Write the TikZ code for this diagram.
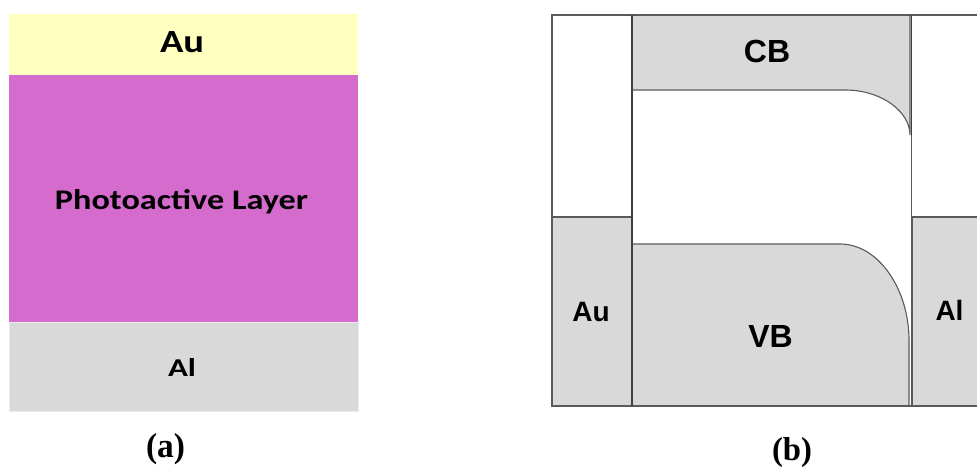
\documentclass[tikz,border=0pt]{standalone}
\usepackage{fontspec}
\setmainfont{Liberation Sans}
\newfontfamily\calfont{Carlito}
\newfontfamily\serfont{Liberation Serif}
\definecolor{auyellow}{HTML}{FFFFC0}
\definecolor{photomag}{HTML}{D66BCE}
\definecolor{algray}{HTML}{D9D9D9}
\definecolor{bandgray}{HTML}{D9D9D9}
\definecolor{edgegray}{HTML}{5A5A5A}
\definecolor{darkedge}{HTML}{404040}
\tikzset{
  lbl/.style={anchor=base, inner sep=0pt, outer sep=0pt, text=black},
  bandline/.style={draw=edgegray, line width=1.1pt},
  divline/.style={draw=darkedge, line width=1.6pt},
  bigsans/.style={font=\fontsize{32}{32}\selectfont\bfseries},
  midsans/.style={font=\fontsize{28}{28}\selectfont\bfseries},
}
\begin{document}
\begin{tikzpicture}[x=1pt,y=-1pt]
\useasboundingbox (0,0) rectangle (977,468);
% ---------- panel (a)
\fill[auyellow] (9,14) rectangle (358,75);
\fill[photomag] (9,75) rectangle (358,322);
\fill[algray] (9,322) rectangle (358,411);
\draw[black!8, line width=0.8pt] (9,322) rectangle (358,411);
\node[lbl] (tAu) at (182,53) {\resizebox{44pt}{21pt}{\calfont\bfseries Au}};
\node[lbl] (tPhoto) at (181.5,209) {\resizebox{253pt}{20pt}{\calfont\bfseries Photoactive Layer}};
\node[lbl] (tAl) at (182,376) {\resizebox{28pt}{18pt}{\calfont\bfseries Al}};
\node[lbl] (capA) at (165.5,457) {\resizebox{39pt}{24pt}{\serfont\bfseries (a)}};
% ---------- panel (b)
\begin{scope}
\clip (540,0) rectangle (977,468);
\filldraw[fill=bandgray, bandline] (552,217) rectangle (632,406);
\filldraw[fill=bandgray, bandline] (912,217) rectangle (990,406);
\filldraw[fill=bandgray, bandline] (632,15) -- (910,15) -- (910,135)
   .. controls (910,112) and (882,90) .. (845,90) -- (632,90) -- cycle;
\filldraw[fill=bandgray, bandline] (632,244) -- (840,244)
   .. controls (879,244) and (909,290) .. (909,340) -- (909,406) -- (632,406) -- cycle;
\draw[bandline] (552,406) -- (552,15) -- (990,15);
\draw[bandline] (552,406) -- (990,406);
\draw[divline] (632,15) -- (632,406);
\draw[divline] (911.5,15) -- (911.5,135);
\draw[bandline] (911.5,135) -- (911.5,406);
\end{scope}
\node[lbl, bigsans] (tCB) at (767,63) {CB};
\node[lbl, bigsans] (tVB) at (770.5,347) {VB};
\node[lbl, midsans] (tAuB) at (591,321) {Au};
\node[lbl, midsans] (tAlB) at (949.5,320) {Al};
\node[lbl] (capB) at (792,460) {\resizebox{40pt}{23pt}{\serfont\bfseries (b)}};
\end{tikzpicture}
\end{document}
